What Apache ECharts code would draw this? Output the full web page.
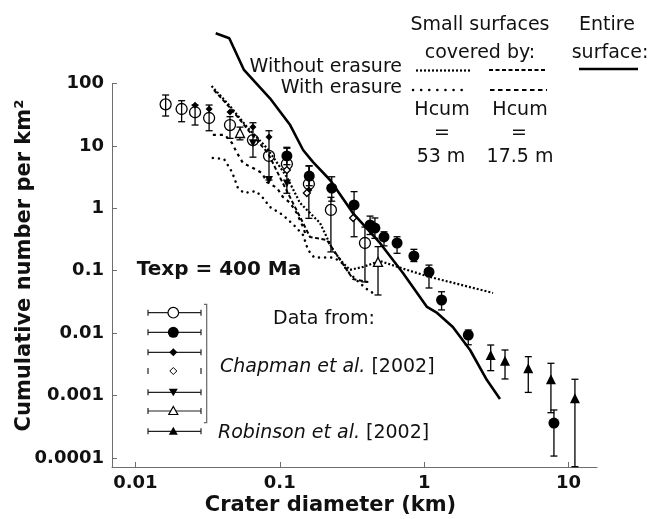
<!DOCTYPE html>
<html>
<head>
<meta charset="utf-8">
<script src="https://cdn.jsdelivr.net/npm/echarts@6/dist/echarts.min.js"></script>
<style>
  html, body { margin: 0; padding: 0; background: #fff; }
  #chart { width: 650px; height: 519px; }
</style>
</head>
<body>
<div id="chart"></div>
<script>
  // crater diameter D (km) and cumulative number N (per km2); everything is plotted in log10
  const xTicks = [0.01, 0.1, 1, 10]
  const xTickLabels = ['0.01', '0.1', '1', '10']
  const yTicks = [0.0001, 0.001, 0.01, 0.1, 1, 10, 100]
  const yTickLabels = ['0.0001', '0.001', '0.01', '0.1', '1', '10', '100']

  // model curves [D, N]
  const entireSurface = [[0.0360, 637], [0.0447, 530], [0.0565, 165], [0.0855, 58], [0.118, 21.6], [0.145, 8.6],
    [0.170, 5.5], [0.223, 2.84], [0.321, 0.84], [0.494, 0.278], [0.713, 0.092], [1.046, 0.0262], [1.23, 0.021],
    [1.58, 0.0125], [2.08, 0.00536], [2.72, 0.00177], [3.35, 0.00088]]
  const noErasure53 = [[0.0337, 91.2], [0.0452, 43.6], [0.0593, 20.1], [0.0814, 9.26], [0.112, 3.17], [0.138, 1.22],
    [0.190, 0.581], [0.233, 0.215], [0.274, 0.133], [0.306, 0.103], [0.377, 0.115], [0.494, 0.143], [0.760, 0.103],
    [1.097, 0.0793], [3.00, 0.0440]]
  const noErasure17 = [[0.0350, 78.7], [0.0467, 37.6], [0.0612, 17.3], [0.0828, 7.69], [0.100, 3.17], [0.145, 0.581],
    [0.162, 0.347], [0.212, 0.310], [0.321, 0.0736], [0.408, 0.0659]]
  const erasure53 = [[0.0344, 6.40], [0.0411, 6.17], [0.0467, 3.82], [0.0513, 2.12], [0.0565, 1.76], [0.0684, 1.89],
    [0.0766, 1.46], [0.0855, 1.05], [0.105, 0.782], [0.127, 0.520], [0.145, 0.373], [0.157, 0.215], [0.173, 0.163],
    [0.233, 0.163], [0.265, 0.140], [0.296, 0.0971], [0.348, 0.0671], [0.395, 0.0519], [0.441, 0.0440]]
  const erasure17 = [[0.0344, 15.0], [0.0417, 15.0], [0.0467, 11.1], [0.0506, 7.69], [0.0556, 5.32], [0.0652, 4.42],
    [0.0753, 3.68], [0.0814, 2.64], [0.0957, 2.12], [0.105, 1.52], [0.118, 1.22], [0.131, 0.841], [0.145, 0.50],
    [0.152, 0.36]]

  // observations [D, N, Nlow, Nhigh]
  const openCircles = [[0.0162, 46.4, 30.1, 65.4], [0.0209, 39.0, 24.4, 53.0], [0.0259, 34.6, 21.6, 45.2],
    [0.0324, 28.0, 17.5, 45.2], [0.0452, 21.6, 13.2, 29.4], [0.0652, 12.4, 6.6, 23.5], [0.0842, 6.9, 2.84, 17.5],
    [0.112, 5.13, 1.74, 9.16], [0.159, 2.45, 0.69, 4.76], [0.226, 0.94, 0.2, 1.5], [0.389, 0.278, 0.066, 0.50]]
  const filledCircles = [[0.112, 6.9, 5.0, 9.5], [0.160, 3.29, 2.3, 4.8], [0.229, 2.1, 1.3, 3.2],
    [0.327, 1.13, 0.35, 1.85], [0.422, 0.54, 0.38, 0.75], [0.456, 0.483, 0.33, 0.70], [0.527, 0.347, 0.25, 0.42],
    [0.649, 0.278, 0.19, 0.35], [0.849, 0.172, 0.14, 0.22], [1.08, 0.0953, 0.0528, 0.123],
    [1.32, 0.0339, 0.0235, 0.046], [2.02, 0.0093, 0.0065, 0.0112], [7.92, 0.000362, 0.000107, 0.000586]]
  const filledDiamonds = [[0.0259, 45], [0.0324, 39], [0.0452, 35], [0.0652, 20.1], [0.0842, 13.9], [0.159, 1.96]]
  const openDiamonds = [[0.112, 4.1], [0.154, 1.76], [0.322, 0.70]]
  const downTriangles = [[0.0652, 11.0], [0.0842, 2.84], [0.112, 2.5]]
  const openTriangles = [[0.053, 16.1, 12.5, 20], [0.479, 0.138, 0.0408, 0.243]]
  const filledTriangles = [[2.89, 0.00446, 0.0025, 0.00644], [3.63, 0.00361, 0.00184, 0.00536],
    [5.26, 0.00273, 0.00112, 0.00419], [7.55, 0.00182, 0.00053, 0.00328], [11.07, 0.00090, 0.0000723, 0.00182]]

  const lg = v => Math.log10(v)
  const FONT = 'DejaVu Sans'

  function curve(rows, width, dash, cap) {
    return {
      type: 'line',
      data: rows.map(r => [lg(r[0]), lg(r[1])]),
      symbol: 'none',
      clip: false,
      silent: true,
      lineStyle: { color: '#000', width: width, type: dash, cap: cap || 'butt' },
      z: 2
    }
  }

  function errorBars(rows) {
    return {
      type: 'custom',
      data: rows.filter(r => r.length > 2).map(r => [lg(r[0]), lg(r[2]), lg(r[3])]),
      encode: { x: 0, y: [1, 2] },
      silent: true,
      z: 3,
      renderItem(params, api) {
        const top = api.coord([api.value(0), api.value(2)])
        const bot = api.coord([api.value(0), api.value(1)])
        const c = 3.5
        const st = { stroke: '#000', lineWidth: 1.3 }
        return {
          type: 'group',
          children: [
            { type: 'line', shape: { x1: top[0], y1: top[1], x2: bot[0], y2: bot[1] }, style: st },
            { type: 'line', shape: { x1: top[0] - c, y1: top[1], x2: top[0] + c, y2: top[1] }, style: st },
            { type: 'line', shape: { x1: bot[0] - c, y1: bot[1], x2: bot[0] + c, y2: bot[1] }, style: st }
          ]
        }
      }
    }
  }

  function points(rows, symbol, size, fill, extra) {
    return Object.assign({
      type: 'scatter',
      data: rows.map(r => [lg(r[0]), lg(r[1])]),
      symbol: symbol,
      symbolSize: size,
      silent: true,
      z: 4,
      itemStyle: { color: fill, borderColor: '#000', borderWidth: fill === '#000' ? 0 : 1.3, opacity: 1 }
    }, extra || {})
  }

  // legend of the observation symbols (bottom left)
  const legendRowsY = [312.7, 332.3, 352.3, 371, 392.3, 411, 431.3]
  const legendKinds = ['circleOpen', 'circleFilled', 'diamondFilled', 'diamondOpen', 'triDown', 'triOpen', 'triFilled']

  function legendSymbol(kind, cx, cy) {
    const open = { fill: '#fff', stroke: '#000', lineWidth: 1.2 }
    const solid = { fill: '#000' }
    switch (kind) {
      case 'circleOpen': return { type: 'circle', shape: { cx, cy, r: 5.3 }, style: open }
      case 'circleFilled': return { type: 'circle', shape: { cx, cy, r: 5.5 }, style: solid }
      case 'diamondFilled': return { type: 'polygon', shape: { points: [[cx, cy - 4], [cx + 4, cy], [cx, cy + 4], [cx - 4, cy]] }, style: solid }
      case 'diamondOpen': return { type: 'polygon', shape: { points: [[cx, cy - 3.5], [cx + 3.5, cy], [cx, cy + 3.5], [cx - 3.5, cy]] }, style: { fill: '#fff', stroke: '#000', lineWidth: 1 } }
      case 'triDown': return { type: 'polygon', shape: { points: [[cx - 4.5, cy - 3.5], [cx + 4.5, cy - 3.5], [cx, cy + 4]] }, style: solid }
      case 'triOpen': return { type: 'polygon', shape: { points: [[cx, cy - 4.5], [cx + 4.5, cy + 3.5], [cx - 4.5, cy + 3.5]] }, style: open }
      default: return { type: 'polygon', shape: { points: [[cx, cy - 4.5], [cx + 4.5, cy + 3.5], [cx - 4.5, cy + 3.5]] }, style: solid }
    }
  }

  const graphics = []
  legendRowsY.forEach((y, i) => {
    const st = { stroke: '#222', lineWidth: 1.2 }
    if (legendKinds[i] !== 'diamondOpen') {
      graphics.push({ type: 'line', shape: { x1: 148, y1: y, x2: 201, y2: y }, style: st })
    }
    graphics.push({ type: 'line', shape: { x1: 148, y1: y - 3, x2: 148, y2: y + 3 }, style: st })
    graphics.push({ type: 'line', shape: { x1: 201, y1: y - 3, x2: 201, y2: y + 3 }, style: st })
    graphics.push(legendSymbol(legendKinds[i], 173.3, y))
  })
  graphics.push({ type: 'polyline', shape: { points: [[204, 304.3], [206.7, 304.3], [206.7, 422.7], [204, 422.7]] }, style: { stroke: '#666', lineWidth: 1.2, fill: null } })

  // legend of model curves (top right)
  const lineKeys = [
    { x1: 579, x2: 638, y: 69, w: 2.6, dash: null },
    { x1: 416, x2: 472, y: 70.5, w: 2.2, dash: [2, 2] },
    { x1: 489, x2: 547, y: 70, w: 2, dash: [4, 2.5] },
    { x1: 413, x2: 468, y: 90, w: 2.5, dash: [0.1, 8] },
    { x1: 490, x2: 547, y: 90, w: 2, dash: [4.5, 3.5] }
  ]
  lineKeys.forEach(k => {
    graphics.push({
      type: 'line',
      shape: { x1: k.x1, y1: k.y, x2: k.x2, y2: k.y },
      style: { stroke: '#000', lineWidth: k.w, lineDash: k.dash, lineCap: k.dash && k.dash[0] < 1 ? 'round' : 'butt' }
    })
  })

  function text(str, x, y, align, size, weight, extra) {
    return Object.assign({
      type: 'text',
      x: x,
      y: y,
      style: {
        text: str,
        fontFamily: FONT,
        fontSize: size,
        fontWeight: weight || 'normal',
        fill: '#111',
        textAlign: align,
        textVerticalAlign: 'middle'
      }
    }, extra || {})
  }

  graphics.push(
    text('Small surfaces', 480, 25, 'center', 19),
    text('covered by:', 480, 53, 'center', 19),
    text('Entire', 607, 25, 'center', 19),
    text('surface:', 610, 53, 'center', 19),
    text('Without erasure', 402, 67, 'right', 19),
    text('With erasure', 402, 88, 'right', 19),
    text('Hcum', 442, 110, 'center', 19),
    text('Hcum', 520, 110, 'center', 19),
    text('=', 442, 133, 'center', 19),
    text('=', 519, 133, 'center', 19),
    text('53 m', 441, 157, 'center', 19),
    text('17.5 m', 520, 157, 'center', 19),
    text('Texp = 400 Ma', 136.7, 269.5, 'left', 20, 'bold'),
    text('Data from:', 273, 319, 'left', 19),
    text('Crater diameter (km)', 330.5, 506, 'center', 21, 'bold'),
    text('Cumulative number per km²', 25, 265.5, 'center', 21, 'bold', { rotation: Math.PI / 2 })
  )
  const richItalic = { i: { fontFamily: FONT, fontSize: 19, fontStyle: 'italic', fill: '#111' }, n: { fontFamily: FONT, fontSize: 19, fill: '#111' } }
  graphics.push({ type: 'text', x: 220, y: 367, style: { text: '{i|Chapman et al.}{n| [2002]}', rich: richItalic, fontFamily: FONT, fontSize: 19, textVerticalAlign: 'middle' } })
  graphics.push({ type: 'text', x: 218, y: 433, style: { text: '{i|Robinson et al.}{n| [2002]}', rich: richItalic, fontFamily: FONT, fontSize: 19, textVerticalAlign: 'middle' } })

  const axisGrey = '#6e6e6e'
  const tickLabel = { fontFamily: FONT, fontWeight: 'bold', fontSize: 18, color: '#111' }

  const chart = echarts.init(document.getElementById('chart'))
  chart.setOption({
    animation: false,
    backgroundColor: '#fff',
    grid: { left: 112, top: 83.5, width: 485, height: 383.5, containLabel: false },
    xAxis: {
      type: 'value',
      min: -2.162,
      max: 1.197,
      axisLine: { show: true, onZero: false, lineStyle: { color: axisGrey, width: 1 } },
      axisTick: { show: true, inside: true, length: 5, customValues: xTicks.map(lg), lineStyle: { color: axisGrey } },
      axisLabel: Object.assign({ customValues: xTicks.map(lg), margin: 7, formatter: v => xTickLabels[Math.round(v) + 2] }, tickLabel),
      splitLine: { show: false }
    },
    yAxis: {
      type: 'value',
      min: -4.146,
      max: 2,
      axisLine: { show: true, onZero: false, lineStyle: { color: axisGrey, width: 1 } },
      axisTick: { show: true, inside: true, length: 5, customValues: yTicks.map(lg), lineStyle: { color: axisGrey } },
      axisLabel: Object.assign({ customValues: yTicks.map(lg), margin: 8, formatter: v => yTickLabels[Math.round(v) + 4] }, tickLabel),
      splitLine: { show: false }
    },
    graphic: { elements: graphics },
    series: [
      curve(entireSurface, 2.6, 'solid'),
      curve(noErasure53, 2.2, [2, 2]),
      curve(noErasure17, 2, [4, 2.5]),
      curve(erasure53, 2.5, [0.1, 6], 'round'),
      curve(erasure17, 2.2, [3, 4]),
      errorBars(openCircles),
      errorBars(filledCircles),
      errorBars(openTriangles),
      errorBars(filledTriangles),
      points(openCircles, 'circle', 11, 'transparent'),
      points(filledCircles, 'circle', 11, '#000'),
      points(filledDiamonds, 'diamond', 7, '#000'),
      points(openDiamonds, 'diamond', 7, '#fff'),
      points(downTriangles, 'triangle', 8, '#000', { symbolRotate: 180 }),
      points(openTriangles, 'triangle', 9, '#fff'),
      points(filledTriangles, 'triangle', 10, '#000')
    ]
  })
</script>
</body>
</html>
